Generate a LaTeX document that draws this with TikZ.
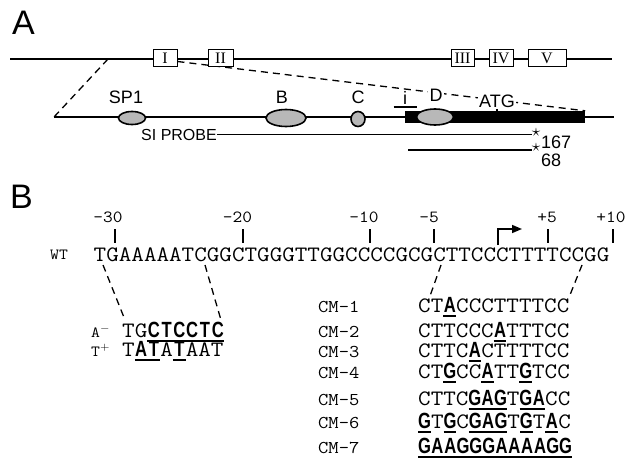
\documentclass[tikz,border=0pt]{standalone}
\usepackage{fontspec,graphicx}
\setmainfont{Liberation Sans}
\setsansfont{Liberation Sans}
\newfontfamily\romfont{Liberation Serif}
\usetikzlibrary{arrows.meta,positioning,calc,shapes.geometric}

% typewriter text, widened to the cell width of the sequences
\newcommand\sq[1]{\scalebox{1.11}[1]{#1}}
\newcommand\seqfont{\ttfamily\fontsize{22}{24}\selectfont}
% changed base: bold, underlined, kept in one mono cell
\newcommand\mt[1]{\makebox[0.525em]{\sffamily\bfseries\scalebox{0.68}[1]{#1}}\llap{\rule[-4.5pt]{0.525em}{1.6pt}}}

\begin{document}
\begin{tikzpicture}[x=1pt,y=-1pt,
    dnaline/.style={line width=1.2pt},
    cutline/.style={line width=1.3pt,dash pattern=on 7pt off 5pt},
    exon/.style={draw,fill=white,line width=1pt,minimum height=17pt,inner sep=0pt,
      font=\romfont\fontsize{16}{16}\selectfont},
    site/.style={ellipse,draw,line width=1.6pt,fill=black!28,inner sep=0pt},
    panel/.style={anchor=base west,inner sep=0pt,font=\fontsize{34}{34}\selectfont},
    lab/.style={anchor=base,inner sep=0pt,font=\fontsize{18}{18}\selectfont},
    starmark/.style={inner sep=0pt,font=\fontsize{16}{16}\selectfont},
    num/.style={anchor=base,inner sep=0pt,font=\ttfamily\fontsize{17}{17}\selectfont},
    tag/.style={anchor=base west,inner sep=0pt,font=\ttfamily\fontsize{15.5}{15.5}\selectfont},
    cmtag/.style={anchor=base west,inner sep=0pt,font=\ttfamily\fontsize{18}{18}\selectfont},
    seq/.style={anchor=base west,inner sep=0pt,font=\seqfont},
    tick/.style={line width=1.4pt}]
  \useasboundingbox (0,0) rectangle (627,460);

  % panel A: gene and promoter region
  \node[panel] (pA) at (12,35) {A};
  \coordinate (tl) at (10,59);
  \coordinate (tr) at (612,59);
  \coordinate (cutA) at (108,59);
  \coordinate (lowL) at (54,117);
  \coordinate (lowR) at (614,117);
  \draw[dnaline] (tl) -- (tr);
  \draw[dnaline] (lowL) -- (lowR);
  \draw[cutline] (cutA) -- (lowL);

  \node[fill=black,inner sep=0pt,minimum width=180pt,minimum height=12pt] (orf) at (495,117) {};
  \node[exon,minimum width=24pt] (exI) at (165,58.5) {I};
  \draw[cutline] ([yshift=-3pt]exI.east) -- (orf.north east);
  \node[exon,minimum width=25pt] (exII) at (220.5,58.5) {II};
  \node[exon,minimum width=23pt] (exIII) at (462.5,58.5) {III};
  \node[exon,minimum width=24pt] (exIV) at (501,58.5) {IV};
  \node[exon,minimum width=38pt] (exV) at (547,58.5) {V};

  \node[site,minimum width=27pt,minimum height=13pt] (sp1) at (132,118) {};
  \node[site,minimum width=40pt,minimum height=17pt] (sb) at (286,118) {};
  \node[site,minimum width=14pt,minimum height=15pt] (sc) at (358,119) {};
  \node[site,minimum width=37pt,minimum height=16pt] (sd) at (435,117) {};

  \node[lab] (lsp1) at (126,103) {SP1};
  \node[lab] (lb) at (282,103) {B};
  \node[lab] (lc) at (358,103) {C};
  \node[lab] (li) at (405,104) {i};
  \draw[line width=2pt] ([xshift=-11.5pt,yshift=-3.5pt]li.base) -- ([xshift=11.5pt,yshift=-3.5pt]li.base);
  \node[lab,fill=white,inner sep=1.5pt] (ld) at (436,102) {D};
  \node[lab,fill=white,inner sep=1.5pt] (latg) at (497,107) {ATG};
  \draw[dnaline] (latg.south) -- (latg.south |- orf.north);

  % S1 probes
  \node[lab,anchor=base west,font=\fontsize{16}{16}\selectfont] (probe) at (141,140) {SI PROBE};
  \node[starmark] (st1) at (536,132) {$\star$};
  \draw[line width=1.4pt] (probe.east) -- (probe.east -| st1.west);
  \node[lab,anchor=west] (n167) at (541,142) {167};
  \coordinate (sh) at (408,150);
  \node[starmark] (st2) at (536,147) {$\star$};
  \draw[line width=1.4pt] (sh) -- (sh -| st2.west);
  \node[lab,anchor=west] (n68) at (541,160) {68};

  % panel B: sequence and mutants
  \node[panel] (pB) at (10,208) {B};
  \node[num] (m30) at (108,222) {\sq{-30}};
  \node[num] (m20) at (237.5,222) {\sq{-20}};
  \node[num] (m10) at (364,222) {\sq{-10}};
  \node[num] (m5) at (429,222) {\sq{-5}};
  \node[num] (p5) at (547,222) {\sq{+5}};
  \node[num] (p10) at (611,222) {\sq{+10}};
  \draw[tick] (115,229) -- (115,243);
  \draw[tick] (243,229) -- (243,243);
  \draw[tick] (370,229) -- (370,243);
  \draw[tick] (434,229) -- (434,243);
  \draw[tick] (548,229) -- (548,243);
  \draw[tick] (613,229) -- (613,243);
  \coordinate (tss) at (498,245);
  \draw[line width=1.5pt,-{Triangle[length=10pt,width=8pt]}] (tss) -- ++(0,-16) -- ++(24,0);

  \node[tag] (wtl) at (50,259) {\sq{WT}};
  \node[seq] (wt) at (93.5,261) {\sq{TGAAAAATCGGCTGGGTTGGCCCCGCGCTTCCCTTTTCCGG}};

  \node[tag] (aml) at (91,337) {\sq{A$^-$}};
  \node[seq] (am) at (122,337) {\sq{TG\mt{C}\mt{T}\mt{C}\mt{C}\mt{T}\mt{C}}};
  \node[tag] (tpl) at (91,356) {\sq{T$^+$}};
  \node[seq] (tp) at (122,356) {\sq{T\mt{A}\mt{T}A\mt{T}AAT}};

  \node[cmtag] (cm1l) at (318,312) {\sq{CM-1}};
  \node[seq] (cm1) at (418,312) {\sq{CT\mt{A}CCCTTTTCC}};
  \node[cmtag] (cm2l) at (318,337) {\sq{CM-2}};
  \node[seq] (cm2) at (418,337) {\sq{CTTCCC\mt{A}TTTCC}};
  \node[cmtag] (cm3l) at (318,357) {\sq{CM-3}};
  \node[seq] (cm3) at (418,357) {\sq{CTTC\mt{A}CTTTTCC}};
  \node[cmtag] (cm4l) at (318,378) {\sq{CM-4}};
  \node[seq] (cm4) at (418,378) {\sq{CT\mt{G}CC\mt{A}TT\mt{G}TCC}};
  \node[cmtag] (cm5l) at (318,405) {\sq{CM-5}};
  \node[seq] (cm5) at (418,405) {\sq{CTTC\mt{G}\mt{A}\mt{G}T\mt{G}\mt{A}CC}};
  \node[cmtag] (cm6l) at (318,428) {\sq{CM-6}};
  \node[seq] (cm6) at (418,428) {\sq{\mt{G}T\mt{G}C\mt{G}\mt{A}\mt{G}T\mt{G}T\mt{A}C}};
  \node[cmtag] (cm7l) at (318,453) {\sq{CM-7}};
  \node[seq] (cm7) at (418,453) {\sq{\mt{G}\mt{A}\mt{A}\mt{G}\mt{G}\mt{G}\mt{A}\mt{A}\mt{A}\mt{A}\mt{G}\mt{G}}};

  \coordinate (cw1) at (103,265);
  \coordinate (cw2) at (205,265);
  \coordinate (cw3) at (441,265);
  \coordinate (cw4) at (582,265);
  \draw[cutline] (cw1) -- ([shift={(3pt,17pt)}]am.base west);
  \draw[cutline] (cw2) -- ([shift={(-3.5pt,17pt)}]am.base east);
  \draw[cutline] (cw3) -- ([shift={(12pt,16pt)}]cm1.base west);
  \draw[cutline] (cw4) -- ([shift={(0pt,16pt)}]cm1.base east);
\end{tikzpicture}
\end{document}
